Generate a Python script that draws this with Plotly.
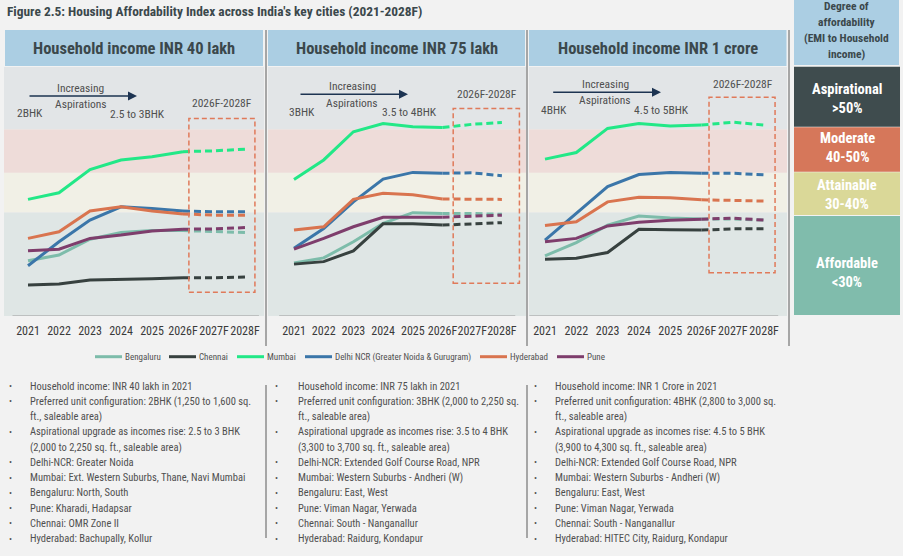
import plotly.graph_objects as go

W, H = 903, 556

# ---------------- data ----------------
years = ["2021", "2022", "2023", "2024", "2025", "2026F", "2027F", "2028F"]
cities = ["Bengaluru", "Chennai", "Mumbai", "Delhi NCR (Greater Noida & Gurugram)", "Hyderabad", "Pune"]
city_colors = ["#7dbcaa", "#37413f", "#22e887", "#3b76a9", "#d9744f", "#7e3d6c"]

panel_titles = ["Household income INR 40 lakh", "Household income INR 75 lakh", "Household income INR 1 crore"]
base_config = ["2BHK", "3BHK", "4BHK"]
aspiration_config = ["2.5 to 3BHK", "3.5 to 4BHK", "4.5 to 5BHK"]

# EMI-to-income index
inr40_bengaluru = [18.3, 19.7, 23.5, 25.1, 25.6, 25.6, 25.3, 25.1]
inr40_chennai = [12.5, 12.7, 13.7, 13.8, 14.0, 14.2, 14.2, 14.4]
inr40_mumbai = [33.1, 34.7, 40.3, 42.6, 43.4, 44.6, 44.8, 45.2]
inr40_delhi = [17.1, 22.9, 28.1, 31.3, 30.9, 30.3, 30.1, 30.1]
inr40_hyderabad = [23.7, 25.3, 30.3, 31.3, 30.3, 29.6, 29.3, 29.3]
inr40_pune = [20.7, 21.1, 23.7, 24.5, 25.5, 25.9, 26.0, 26.3]

inr75_bengaluru = [17.8, 19.0, 22.9, 27.3, 29.9, 29.7, 29.7, 29.5]
inr75_chennai = [17.5, 18.1, 20.7, 27.2, 27.2, 26.9, 27.2, 27.5]
inr75_mumbai = [37.9, 42.6, 49.4, 51.4, 50.6, 50.4, 51.2, 51.6]
inr75_delhi = [21.3, 26.1, 32.5, 38.0, 39.6, 39.4, 39.5, 38.8]
inr75_hyderabad = [25.7, 26.5, 33.1, 34.6, 34.2, 33.2, 33.1, 33.1]
inr75_pune = [21.1, 23.7, 26.5, 28.8, 28.8, 28.8, 29.1, 29.3]

inr100_bengaluru = [19.5, 22.7, 26.9, 29.1, 28.6, 28.4, 28.4, 28.1]
inr100_chennai = [18.7, 18.9, 20.3, 25.9, 25.8, 25.7, 26.0, 26.0]
inr100_mumbai = [42.8, 44.4, 50.2, 51.4, 50.8, 51.0, 51.7, 51.0]
inr100_delhi = [23.3, 29.7, 36.2, 39.1, 39.6, 39.4, 39.4, 39.0]
inr100_hyderabad = [26.8, 27.7, 32.5, 33.6, 33.5, 33.0, 32.8, 32.7]
inr100_pune = [22.9, 23.7, 26.7, 27.6, 28.1, 28.3, 28.6, 28.1]

band_names = ["Affordable", "Attainable", "Moderate", "Aspirational"]
band_ranges = ["<30%", "30-40%", "40-50%", ">50%"]
band_edges = [5, 30, 39.5, 50, 65]

bullets_40 = [
    ("•", "Household income: INR 40 lakh in 2021"),
    ("•", "Preferred unit configuration: 2BHK (1,250 to 1,600 sq."),
    ("", "ft., saleable area)"),
    ("•", "Aspirational upgrade as incomes rise: 2.5 to 3 BHK"),
    ("", "(2,000 to 2,250 sq. ft., saleable area)"),
    ("•", "Delhi-NCR: Greater Noida"),
    ("•", "Mumbai: Ext. Western Suburbs, Thane, Navi Mumbai"),
    ("•", "Bengaluru: North, South"),
    ("•", "Pune: Kharadi, Hadapsar"),
    ("•", "Chennai: OMR Zone II"),
    ("•", "Hyderabad: Bachupally, Kollur"),
]
bullets_75 = [
    ("•", "Household income: INR 75 lakh in 2021"),
    ("•", "Preferred unit configuration: 3BHK (2,000 to 2,250 sq."),
    ("", "ft., saleable area)"),
    ("•", "Aspirational upgrade as incomes rise: 3.5 to 4 BHK"),
    ("", "(3,300 to 3,700 sq. ft., saleable area)"),
    ("•", "Delhi-NCR: Extended Golf Course Road, NPR"),
    ("•", "Mumbai: Western Suburbs - Andheri (W)"),
    ("•", "Bengaluru: East, West"),
    ("•", "Pune: Viman Nagar, Yerwada"),
    ("•", "Chennai: South - Nanganallur"),
    ("•", "Hyderabad: Raidurg, Kondapur"),
]
bullets_100 = [
    ("•", "Household income: INR 1 Crore in 2021"),
    ("•", "Preferred unit configuration: 4BHK (2,800 to 3,000 sq."),
    ("", "ft., saleable area)"),
    ("•", "Aspirational upgrade as incomes rise: 4.5 to 5 BHK"),
    ("", "(3,900 to 4,300 sq. ft., saleable area)"),
    ("•", "Delhi-NCR: Extended Golf Course Road, NPR"),
    ("•", "Mumbai: Western Suburbs - Andheri (W)"),
    ("•", "Bengaluru: East, West"),
    ("•", "Pune: Viman Nagar, Yerwada"),
    ("•", "Chennai: South - Nanganallur"),
    ("•", "Hyderabad: HITEC City, Raidurg, Kondapur"),
]

panels_data = [
    [inr40_bengaluru, inr40_chennai, inr40_mumbai, inr40_delhi, inr40_hyderabad, inr40_pune],
    [inr75_bengaluru, inr75_chennai, inr75_mumbai, inr75_delhi, inr75_hyderabad, inr75_pune],
    [inr100_bengaluru, inr100_chennai, inr100_mumbai, inr100_delhi, inr100_hyderabad, inr100_pune],
]
bullet_cols = [bullets_40, bullets_75, bullets_100]

# ---------------- layout helpers ----------------
FONT = "Liberation Sans Narrow, Roboto Condensed, Roboto, sans-serif"
TXT = "#505050"
BG = "#f2f2f2"


def px(x):
    return x / W


def py(y):
    return 1 - y / H


def label(x, y, text, font, xanchor="center"):
    return dict(x=px(x), y=py(y), xref="paper", yref="paper", xanchor=xanchor,
                yanchor="middle", text=text, showarrow=False, font=font)


band_fill = ["#dfe6e5", "#f1f0e6", "#eedcd9", "#e2e5e7"]
box_fill = ["#80bcac", "#dad898", "#d6775a", "#3f4c4e"]
HEAD_BLUE = "#abcee3"

# panel geometry (pixels): plot x span, first-point x, step
panel_geo = [
    dict(x0=4, x1=264, first=28, step=31.0, head=(5, 263), box=(5.19, 7.32, 10.7, 52.6)),
    dict(x0=268, x1=526, first=294, step=29.7, head=(268, 525), box=(5.36, 7.59, 12.9, 55.0)),
    dict(x0=529, x1=787, first=545, step=31.3, head=(529, 786.5), box=(5.24, 7.35, 15.4, 57.7)),
]
Y_TOP, Y_BOT = 67, 316
YR = [5, 65]

fig = go.Figure()
shapes = []
annotations = []

for i, geo in enumerate(panel_geo):
    sfx = "" if i == 0 else str(i + 1)
    xa = "x" + sfx
    ya = "y" + sfx
    lo = (geo["x0"] - geo["first"]) / geo["step"]
    hi = (geo["x1"] - geo["first"]) / geo["step"]
    fig.layout["xaxis" + sfx] = dict(
        domain=[px(geo["x0"]), px(geo["x1"])], anchor=ya, type="category",
        range=[lo, hi], showgrid=False, zeroline=False, showline=False,
        ticks="outside", ticklen=4, tickcolor="rgba(0,0,0,0)", tickangle=0,
        tickfont=dict(family=FONT, size=12, color="#3a3a3a"), fixedrange=True,
        categoryorder="array", categoryarray=years,
    )
    fig.layout["yaxis" + sfx] = dict(
        domain=[py(Y_BOT), py(Y_TOP)], anchor=xa, range=YR,
        showgrid=False, zeroline=False, showline=False, showticklabels=False, fixedrange=True,
    )
    # background bands
    for b in range(4):
        shapes.append(dict(type="rect", xref=xa + " domain", yref=ya, x0=0, x1=1,
                           y0=band_edges[b], y1=band_edges[b + 1], fillcolor=band_fill[b],
                           line=dict(width=0), layer="below"))
    # axis line
    shapes.append(dict(type="line", xref=xa, yref=ya, x0=-0.5, x1=7.45, y0=YR[0], y1=YR[0],
                       line=dict(color="#9a9a9a", width=1)))
    # series
    for c, vals in enumerate(panels_data[i]):
        fig.add_trace(go.Scatter(x=years[:6], y=vals[:6], mode="lines", xaxis=xa, yaxis=ya,
                                 line=dict(color=city_colors[c], width=3), showlegend=False,
                                 name=cities[c], hoverinfo="skip"))
        fig.add_trace(go.Scatter(x=years[5:], y=vals[5:], mode="lines", xaxis=xa, yaxis=ya,
                                 line=dict(color=city_colors[c], width=3, dash="7px,4px"),
                                 showlegend=False, name=cities[c], hoverinfo="skip"))
    # forecast box
    bx0, bx1, by0, by1 = geo["box"]
    shapes.append(dict(type="rect", xref=xa, yref=ya, x0=bx0, x1=bx1, y0=by0, y1=by1,
                       line=dict(color="#e07a5a", width=1.5, dash="5px,3px"),
                       fillcolor="rgba(0,0,0,0)"))
    # header band
    h0, h1 = geo["head"]
    shapes.append(dict(type="rect", xref="paper", yref="paper", x0=px(h0), x1=px(h1),
                       y0=py(66), y1=py(30), fillcolor=HEAD_BLUE, line=dict(width=0), layer="below"))
    annotations.append(label((h0 + h1) / 2, 48, "<b>" + panel_titles[i] + "</b>",
                             dict(family=FONT, size=16.5, color="#3b484c")))

# in-panel annotations (pixel positions)
ann_pos = [
    dict(inc=(80, 87.7), asp=(81, 104.3), arr=(28, 137, 96), base=(30, 113.3), up=(137, 114), fc=(221.7, 103.3)),
    dict(inc=(352, 86), asp=(352, 102.7), arr=(299, 408, 94.3), base=(301.7, 111.7), up=(409, 112.3), fc=(486.7, 94.3)),
    dict(inc=(605, 84.3), asp=(605, 100), arr=(551.7, 661, 92.3), base=(554, 110), up=(661, 110), fc=(743, 84)),
]
small = dict(family=FONT, size=11.5, color=TXT)
for i, a in enumerate(ann_pos):
    annotations.append(label(*a["inc"], "Increasing", small))
    annotations.append(label(*a["asp"], "Aspirations", small))
    annotations.append(label(*a["base"], base_config[i], small))
    annotations.append(label(*a["up"], aspiration_config[i], small))
    annotations.append(label(*a["fc"], "2026F-2028F", small))
    x0, x1, yy = a["arr"]
    annotations.append(dict(x=px(x1), y=py(yy), xref="paper", yref="paper", text="",
                            showarrow=True, axref="pixel", ayref="pixel", ax=-(x1 - x0), ay=0,
                            arrowhead=2, arrowsize=1.2, arrowwidth=1.5, arrowcolor="#1d3452"))

# separators
for sx in [266, 527, 789]:
    shapes.append(dict(type="line", xref="paper", yref="paper", x0=px(sx), x1=px(sx),
                       y0=py(30), y1=py(346), line=dict(color="#5a5a5a", width=1)))
for sx in [266, 527]:
    shapes.append(dict(type="line", xref="paper", yref="paper", x0=px(sx), x1=px(sx),
                       y0=py(385), y1=py(538), line=dict(color="#5a5a5a", width=1)))

# title
annotations.append(label(5, 12, "<b>Figure 2.5: Housing Affordability Index across India's key cities (2021-2028F)</b>",
                         dict(family=FONT, size=13.4, color="#3b484c"), xanchor="left"))

# right legend column
shapes.append(dict(type="rect", xref="paper", yref="paper", x0=px(794), x1=px(899),
                   y0=py(65), y1=py(0), fillcolor=HEAD_BLUE, line=dict(width=0)))
for t, yy in zip(["Degree of", "affordability", "(EMI to Household", "income)"], [6, 22, 38.3, 54.3]):
    annotations.append(label(846.5, yy, "<b>" + t + "</b>", dict(family=FONT, size=11.5, color="#3b484c")))
box_y = [(216, 315), (172.3, 215), (127.3, 171.7), (66.7, 126.7)]
box_text_y = [272.5, 195, 148, 98.7]
for b in range(4):
    y0, y1 = box_y[b]
    shapes.append(dict(type="rect", xref="paper", yref="paper", x0=px(794), x1=px(900),
                       y0=py(y1), y1=py(y0), fillcolor=box_fill[b], line=dict(width=0)))
    annotations.append(label(847, box_text_y[b],
                             "<b>" + band_names[b] + "</b><br><b>" + band_ranges[b] + "</b>",
                             dict(family=FONT, size=14.5, color="white")))

# bottom legend row
leg_x = [95, 169, 237, 305, 480, 557]
for c in range(6):
    shapes.append(dict(type="line", xref="paper", yref="paper", x0=px(leg_x[c]), x1=px(leg_x[c] + 27),
                       y0=py(356.7), y1=py(356.7), line=dict(color=city_colors[c], width=3)))
    annotations.append(label(leg_x[c] + 27.5, 357, cities[c], dict(family=FONT, size=9, color=TXT),
                             xanchor="left"))

# bullet columns
col_bullet_x = [10, 276.7, 535]
col_text_x = [28.3, 295.7, 553.3]
for i, col in enumerate(bullet_cols):
    for r, (b, t) in enumerate(col):
        yy = 386 + r * 15.25
        if b:
            annotations.append(label(col_bullet_x[i], yy, b, dict(family=FONT, size=9, color=TXT)))
        annotations.append(label(col_text_x[i], yy, t, dict(family=FONT, size=10.5, color=TXT),
                                 xanchor="left"))

fig.update_layout(
    width=W, height=H, margin=dict(l=0, r=0, t=0, b=0),
    paper_bgcolor=BG, plot_bgcolor="rgba(0,0,0,0)",
    shapes=shapes, annotations=annotations, showlegend=False,
)

fig.write_html("out.html")
